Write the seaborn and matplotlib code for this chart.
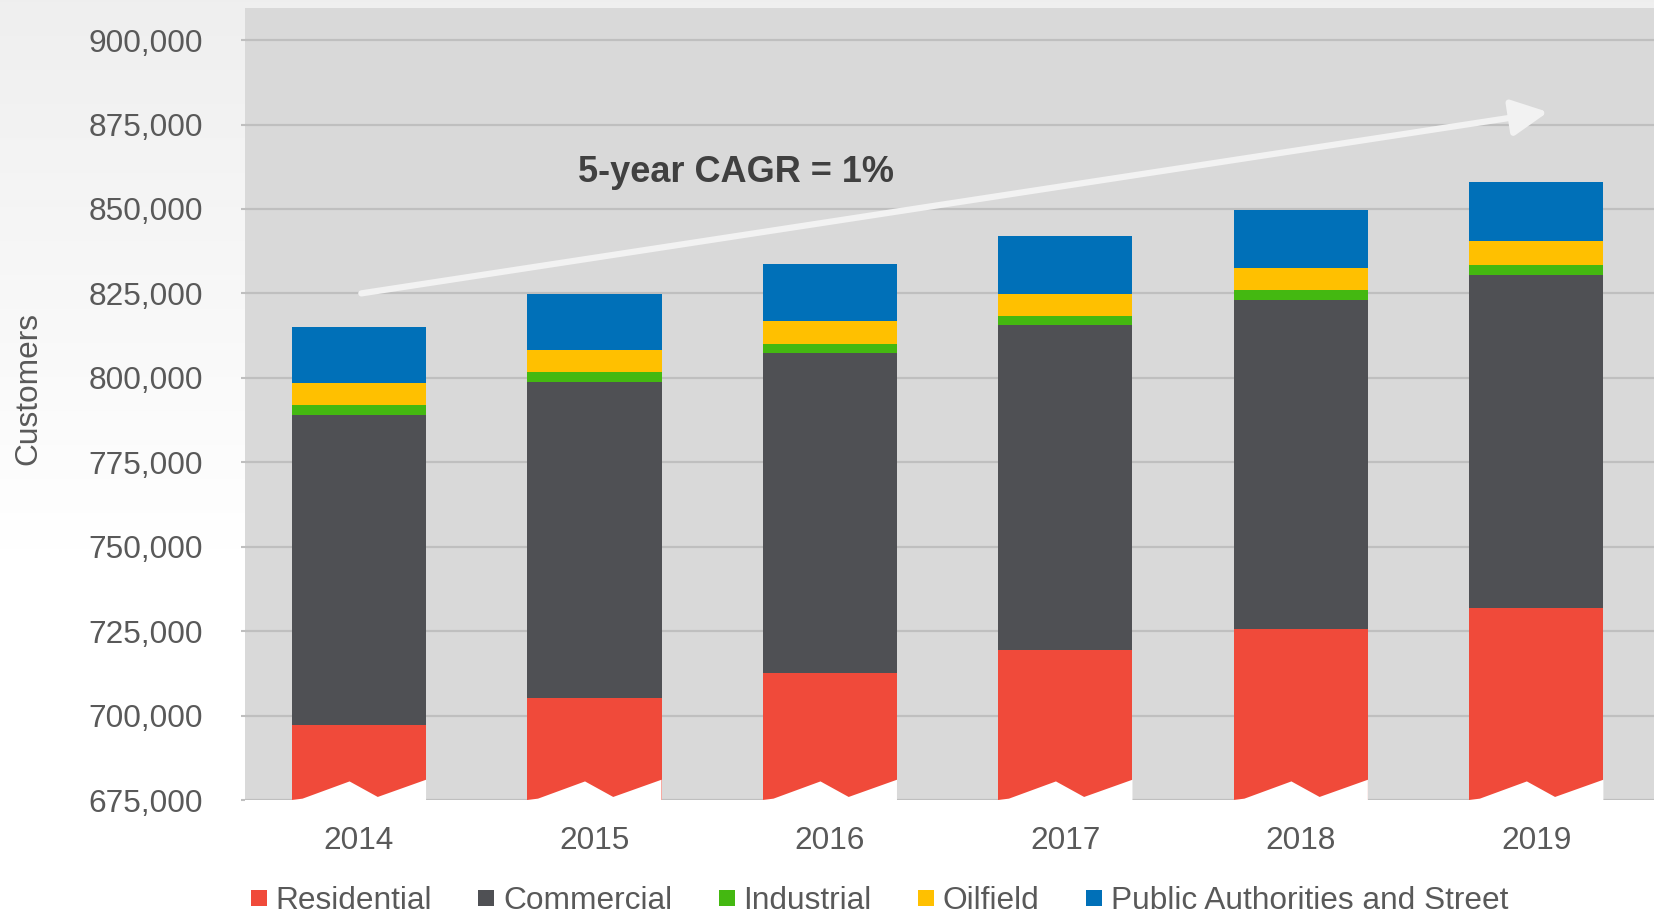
import numpy as np
import pandas as pd
import matplotlib
matplotlib.use("Agg")
import matplotlib.pyplot as plt
from matplotlib.lines import Line2D
from matplotlib.ticker import FuncFormatter
import seaborn as sns

plt.rcParams['font.family'] = ['Liberation Sans', 'DejaVu Sans']

# ---------------- data ----------------
years = ["2014", "2015", "2016", "2017", "2018", "2019"]
residential = [697100, 705300, 712500, 719500, 725500, 731900]
commercial = [91900, 93500, 94800, 96100, 97600, 98500]
industrial = [2900, 2900, 2800, 2800, 2900, 3000]
oilfield = [6500, 6400, 6600, 6500, 6400, 7100]
public = [16600, 16800, 17000, 17100, 17200, 17400]

series_names = ["Residential", "Commercial", "Industrial", "Oilfield",
                "Public Authorities and Street"]
series_values = [residential, commercial, industrial, oilfield, public]
colors = ["#f04a3a", "#4f5054", "#44b811", "#ffc000", "#0070b8"]

y_ticks = list(range(675000, 900001, 25000))
y_label = "Customers"
cagr_text = "5-year CAGR = 1%"

# ---------------- figure ----------------
W, H = 1654, 913
fig = plt.figure(figsize=(W / 100, H / 100), dpi=100)
fig.patch.set_facecolor("white")

# soft gradient background (light grey at top fading to white)
bg = fig.add_axes([0, 0, 1, 1], zorder=-10)
t = np.linspace(0, 1, 400)
shade = 0.937 + (1 - 0.937) * np.clip(t / 0.6, 0, 1)
grad = np.repeat(shade[:, None, None], 3, axis=2)
bg.imshow(grad, aspect="auto", extent=[0, 1, 0, 1], origin="upper")
bg.axis("off")

ax = fig.add_axes([245 / W, (H - 800) / H, (W - 245) / W, (800 - 8) / H])
ax.set_facecolor("#d9d9d9")

df = pd.DataFrame({n: v for n, v in zip(series_names, series_values)}, index=years)
cum = df.cumsum(axis=1)

bar_w = 0.57
# draw from the top of the stack downward so lower layers overlay
for name, col in reversed(list(zip(series_names, colors))):
    sns.barplot(x=years, y=cum[name].values, color=col, width=bar_w,
                saturation=1, linewidth=0, ax=ax, zorder=2)

# broken-axis zigzag at the bottom of each bar
fr_x = np.array([0.0, 0.0, 0.08, 0.43, 0.64, 1.0, 1.0])
fr_y = np.array([673000, 675000, 675400, 680500, 675900, 681000, 673000])
for i in range(len(years)):
    left = i - bar_w / 2
    ax.fill(left + bar_w * fr_x, fr_y, color="white", zorder=3,
            clip_on=False, lw=0)

ax.set_ylim(675000, 909500)
ax.set_xlim(-0.484, 5.5)
ax.set_yticks(y_ticks)
ax.yaxis.set_major_formatter(FuncFormatter(lambda v, p: f"{v:,.0f}"))
ax.yaxis.grid(True, color="#bfbfbf", lw=1.6)
ax.xaxis.grid(False)
ax.set_axisbelow(True)
for s in ax.spines.values():
    s.set_visible(False)

ax.tick_params(axis="y", length=3, width=1.5, color="#bfbfbf", pad=27,
               labelsize=22.8, labelcolor="#595959")
ax.tick_params(axis="x", length=0, pad=19, labelsize=22.8,
               labelcolor="#595959")
ax.set_xlabel("")
ax.set_ylabel(y_label, fontsize=22.8, color="#595959")
ax.yaxis.set_label_coords(-0.143, 0.52)

# CAGR arrow and text
ax.annotate("", xy=(5.05, 878700), xytext=(0.01, 825000),
            arrowprops=dict(arrowstyle="-|>,head_length=1.1,head_width=0.55",
                            color="#f2f2f2", lw=4.5, shrinkA=0, shrinkB=0,
                            mutation_scale=20),
            zorder=4)
ax.text(1.6, 860900, cagr_text, ha="center", va="center", fontsize=26,
        fontweight="bold", color="#404040", zorder=4)

# legend
handles = [Line2D([0], [0], marker="s", linestyle="none", markersize=12,
                  markerfacecolor=c, markeredgewidth=0) for c in colors]
fig.legend(handles, series_names, loc="center", ncol=5, frameon=False,
           bbox_to_anchor=(879 / W, 12 / H), fontsize=22.8,
           handlelength=0.55, handletextpad=0.25, columnspacing=1.45,
           borderpad=0, labelcolor="#595959")

fig.savefig("out.png", dpi=100, facecolor=fig.get_facecolor())
